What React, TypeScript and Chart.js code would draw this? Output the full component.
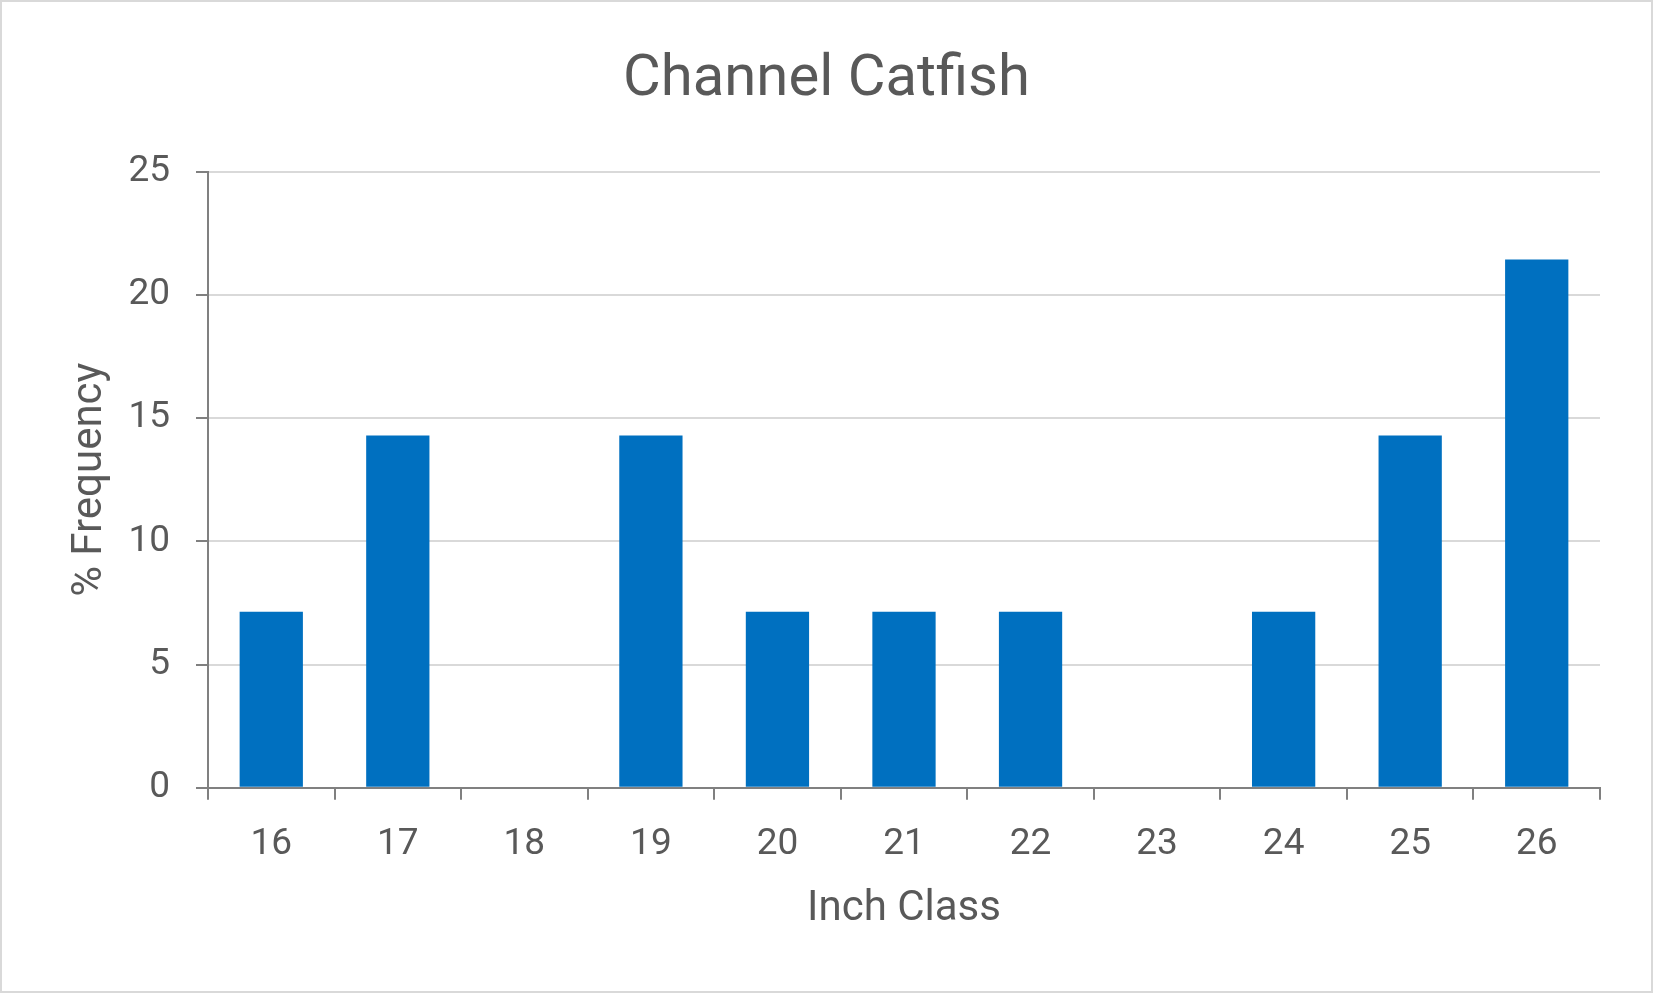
import { useEffect, useRef } from "react";
import { Chart, registerables } from "chart.js";

Chart.register(...registerables);

const inchClasses = ["16", "17", "18", "19", "20", "21", "22", "23", "24", "25", "26"];
const percentFrequency = [7.14, 14.29, 0, 14.29, 7.14, 7.14, 7.14, 0, 7.14, 14.29, 21.43];
const yTicks = [0, 5, 10, 15, 20, 25];

const textColor = "#595959";
const axisColor = "#808080";
const gridColor = "#d9d9d9";
const barColor = "#0070C0";

const CatfishChart = () => {
  const canvasRef = useRef<HTMLCanvasElement>(null);

  useEffect(() => {
    if (!canvasRef.current) return;
    const chart = new Chart(canvasRef.current, {
      type: "bar",
      data: {
        labels: inchClasses,
        datasets: [
          {
            label: "% Frequency",
            data: percentFrequency,
            backgroundColor: barColor,
            borderWidth: 0,
            categoryPercentage: 1,
            barPercentage: 0.5,
          },
        ],
      },
      options: {
        responsive: false,
        animation: false,
        // left/right padding kept equal so the title sits centred on the canvas
        layout: { padding: { top: 0, right: 51, bottom: 0, left: 51 } },
        plugins: {
          legend: { display: false },
          tooltip: { enabled: false },
          title: {
            display: true,
            text: "Channel Catfish",
            color: textColor,
            font: { family: "Roboto", size: 58, weight: "normal", lineHeight: 1.2 },
            padding: { top: 44, bottom: 56 },
          },
        },
        scales: {
          x: {
            offset: true,
            grid: {
              offset: true,
              drawOnChartArea: false,
              drawTicks: true,
              tickLength: 12,
              color: axisColor,
              lineWidth: 2,
            },
            border: { display: true, color: axisColor, width: 2 },
            ticks: {
              color: textColor,
              padding: 23,
              font: { family: "Roboto", size: 37, lineHeight: 1.2 },
            },
            title: {
              display: true,
              text: "Inch Class",
              color: textColor,
              font: { family: "Roboto", size: 42, lineHeight: 1.2 },
              // chart.js counts tick padding twice, so trim the near side
              padding: { top: -5.6, bottom: 56 },
            },
          },
          y: {
            min: 0,
            max: 25,
            afterBuildTicks: (scale) => {
              scale.ticks = yTicks.map((v) => ({ value: v }));
            },
            grid: {
              color: gridColor,
              tickColor: axisColor,
              lineWidth: 2,
              tickLength: 12,
            },
            border: { display: true, color: axisColor, width: 2 },
            ticks: {
              color: textColor,
              padding: 26,
              font: { family: "Roboto", size: 37, lineHeight: 1.2 },
            },
            title: {
              display: true,
              text: "% Frequency",
              color: textColor,
              font: { family: "Roboto", size: 42, lineHeight: 1.2 },
              padding: { top: 12, bottom: -13 },
            },
          },
        },
      },
    });
    return () => chart.destroy();
  }, []);

  return (
    <div
      style={{
        position: "absolute",
        left: 0,
        top: 0,
        width: 1653,
        height: 993,
        boxSizing: "border-box",
        border: `2px solid ${gridColor}`,
        background: "#fff",
      }}
    >
      <canvas ref={canvasRef} width={1649} height={989} style={{ display: "block" }}></canvas>
    </div>
  );
};

export default function App() {
  return <CatfishChart />;
}
